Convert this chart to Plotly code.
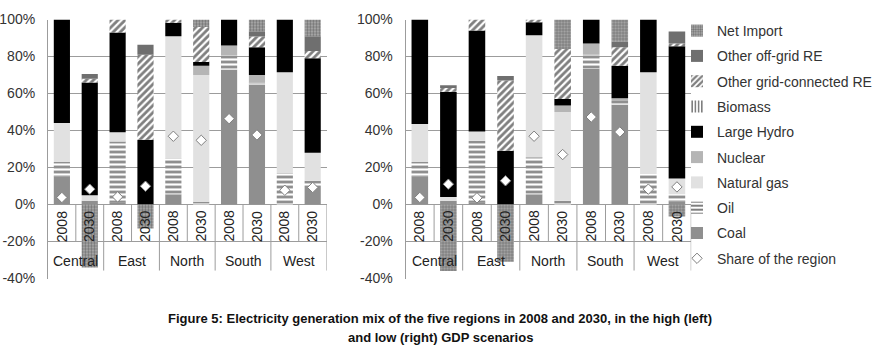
import plotly.graph_objects as go

regions = ["Central", "East", "North", "South", "West"]
years = ["2008", "2030"]
categories = [f"{r} {y}" for r in regions for y in years]

# ---- High GDP scenario (left) : shares in % ----
high = {
    "Coal":                      [15, 2, 1, 0, 5.5, 0, 73, 65, 0, 10],
    "Oil":                       [8, 0, 33, 0, 19.5, 1.5, 7.5, 1, 17, 3],
    "Natural gas":               [21, 3, 5, 0, 66, 68.5, 0, 0, 54.5, 15],
    "Nuclear":                   [0, 0, 0, 0, 0, 5, 5.5, 4, 0, 0],
    "Large Hydro":               [56, 61, 54, 35, 7.2, 2, 14, 15, 28.5, 51],
    "Biomass":                   [0, 0, 0, 0, 0, 0, 0, 0, 0, 0],
    "Other grid-connected RE":   [0, 2, 7, 46, 1.8, 19, 0, 5.8, 0, 4],
    "Other off-grid RE":         [0, 2.5, 0, 5.3, 0, 0, 0, 2.9, 0, 8],
    "Net Import":                [0, -34, 0, -13, 0, 4, 0, 6.3, 0, 9],
}
high_share = [3.8, 8.3, 4.1, 9.9, 36.9, 34.7, 46.4, 37.6, 7.7, 9.2]

# ---- Low GDP scenario (right) ----
low = {
    "Coal":                      [15, 2, 1, 0, 5.5, 0, 73.5, 54, 0, 1.5],
    "Oil":                       [8, 0, 33.5, 0, 20, 2, 7.5, 2, 16.5, 4],
    "Natural gas":               [20.5, 2, 5, 0, 66, 48, 0, 0, 55, 8.5],
    "Nuclear":                   [0, 0, 0, 0, 0, 3.5, 6, 1.5, 0, 0],
    "Large Hydro":               [56.5, 57, 54.5, 29, 7, 3.5, 13, 17.5, 28.5, 71.5],
    "Biomass":                   [0, 0, 0, 0, 0, 0, 0, 0, 0, 0],
    "Other grid-connected RE":   [0, 2, 6, 38, 1.5, 27, 0, 10, 0, 1.5],
    "Other off-grid RE":         [0, 1.5, 0, 2.5, 0, 0, 0, 3, 0, 6.5],
    "Net Import":                [0, -36, 0, -31, 0, 16, 0, 12, 0, -6.5],
}
low_share = [3.8, 11, 3.6, 12.8, 36.9, 27, 47.3, 39.2, 8.3, 9.5]

y_tickvals = [-40, -20, 0, 20, 40, 60, 80, 100]
y_ticktext = ["-40%", "-20%", "0%", "20%", "40%", "60%", "80%", "100%"]

title_lines = ["Figure 5: Electricity generation mix of the five regions in 2008 and 2030, in the high (left)",
               "and low (right) GDP scenarios"]

styles = {
    "Coal":                    dict(color="#8f8f8f"),
    "Oil":                     dict(color="white", pattern=dict(shape="-", fgcolor="black", bgcolor="white", size=5, solidity=0.5)),
    "Natural gas":             dict(color="#e1e1e1"),
    "Nuclear":                 dict(color="#b5b5b5"),
    "Large Hydro":             dict(color="black"),
    "Biomass":                 dict(color="white", pattern=dict(shape="|", fgcolor="black", bgcolor="white", size=4, solidity=0.5)),
    "Other grid-connected RE": dict(color="white", pattern=dict(shape="/", fgcolor="black", bgcolor="white", size=5, solidity=0.55)),
    "Other off-grid RE":       dict(color="#6f6f6f"),
    "Net Import":              dict(color="#999999", pattern=dict(shape=".", fgcolor="#2e2e2e", bgcolor="#b4b4b4", size=3, solidity=0.5)),
}
ranks = {"Net Import": 1, "Other off-grid RE": 2, "Other grid-connected RE": 3, "Biomass": 4,
         "Large Hydro": 5, "Nuclear": 6, "Natural gas": 7, "Oil": 8, "Coal": 9}

fig = go.Figure()
for idx, (data, share) in enumerate([(high, high_share), (low, low_share)]):
    xa = "x" if idx == 0 else "x2"
    ya = "y" if idx == 0 else "y2"
    for name, vals in data.items():
        fig.add_trace(go.Bar(
            x=categories, y=vals, name=name, xaxis=xa, yaxis=ya,
            marker=dict(line=dict(width=0), **styles[name]),
            legendgroup=name, showlegend=(idx == 0), legendrank=ranks[name],
            hoverinfo="skip",
        ))
    fig.add_trace(go.Scatter(
        x=categories, y=share, mode="markers", name="Share of the region",
        xaxis=xa, yaxis=ya,
        marker=dict(symbol="diamond", size=8, color="white", line=dict(color="#7f7f7f", width=1)),
        legendgroup="share", showlegend=(idx == 0), legendrank=10, hoverinfo="skip",
    ))

W, H = 877, 350


def px_x(px):
    return px / W


def px_y(py):
    return 1 - py / H


x_domains = [[px_x(48), px_x(327)], [px_x(406), px_x(692)]]
y_dom = [px_y(278.5), px_y(19.5)]

yaxis_common = dict(range=[-40, 100], tickvals=y_tickvals, ticktext=y_ticktext,
                    showgrid=True, gridcolor="#9c9c9c", gridwidth=1, zeroline=False,
                    showline=True, linecolor="#9c9c9c", linewidth=1,
                    tickfont=dict(family="Liberation Sans, Arial", size=14, color="#333"),
                    ticks="outside", ticklen=9, tickcolor="rgba(0,0,0,0)",
                    automargin=False, domain=y_dom)
xaxis_common = dict(range=[-0.5, 9.5], showticklabels=False, showgrid=False,
                    zeroline=False, showline=False, ticks="", categoryorder="array",
                    categoryarray=categories, automargin=False)

fig.update_layout(
    width=W, height=H, margin=dict(l=0, r=0, t=0, b=0),
    paper_bgcolor="white", plot_bgcolor="white",
    barmode="relative", bargap=0.42,
    xaxis=dict(domain=x_domains[0], anchor="y", **xaxis_common),
    yaxis=dict(anchor="x", **yaxis_common),
    xaxis2=dict(domain=x_domains[1], anchor="y2", **xaxis_common),
    yaxis2=dict(anchor="x2", **yaxis_common),
    legend=dict(x=px_x(678), xanchor="left", y=px_y(15), yanchor="top", maxheight=345,
                font=dict(family="Liberation Sans, Arial", size=14, color="#333"),
                tracegroupgap=4.1, bgcolor="rgba(0,0,0,0)", itemwidth=30),
    font=dict(family="Liberation Sans, Arial", color="#333"),
)

annotations = []
shapes = []
for xa, ya in [("x", "y"), ("x2", "y2")]:
    for i, cat in enumerate(categories):
        annotations.append(dict(x=cat, y=-11.8, xref=xa, yref=ya, text=years[i % 2],
                                textangle=-90, showarrow=False,
                                font=dict(family="Liberation Sans, Arial", size=14, color="#222")))
    for j, r in enumerate(regions):
        annotations.append(dict(x=2 * j + 0.5, y=-30.5, xref=xa, yref=ya, text=r, showarrow=False,
                                font=dict(family="Liberation Sans, Arial", size=14, color="#222")))
        shapes.append(dict(type="line", xref=xa, yref=ya, x0=2 * j + 0.5, x1=2 * j + 0.5,
                           y0=0, y1=-20, line=dict(color="#9c9c9c", width=1), layer="below"))
        shapes.append(dict(type="line", xref=xa, yref=ya, x0=2 * j + 1.5, x1=2 * j + 1.5,
                           y0=0, y1=-35.7, line=dict(color="#9c9c9c", width=1), layer="below"))

for k, (line, ypx) in enumerate(zip(title_lines, [318, 337])):
    annotations.append(dict(x=px_x(441), y=px_y(ypx), xref="paper", yref="paper",
                            text="<b>" + line + "</b>", showarrow=False, yanchor="middle",
                            font=dict(family="Liberation Sans, Arial", size=13, color="#111")))
fig.update_layout(annotations=annotations, shapes=shapes)

# remove the browser's default 8px page margin so the figure sits at the window's origin
fig.write_html("out.html", config={"displayModeBar": False},
               post_script="document.body.style.margin='0px';")
